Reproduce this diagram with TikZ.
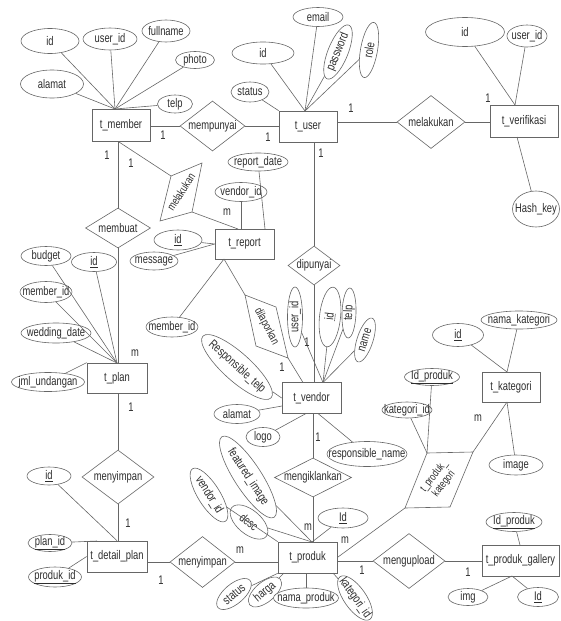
\documentclass[tikz,border=0pt]{standalone}
\usepackage{fontspec}
\setmainfont{Liberation Sans}[FakeStretch=0.75]
\usetikzlibrary{shapes.geometric}
\begin{document}
\begin{tikzpicture}[x=1pt,y=-1pt,
  every node/.style={font=\fontsize{12.5}{13}\selectfont, text=black!82},
  ln/.style={draw=black!60, line width=0.6pt},
  ent/.style={draw=black!60, line width=0.7pt, rectangle, inner sep=0pt, fill=white},
  rel/.style={draw=black!60, line width=0.6pt, diamond, inner sep=-8pt, aspect=1, fill=white},
  att/.style={draw=black!60, line width=0.6pt, ellipse, inner xsep=-30pt, inner ysep=-10pt, fill=white},
  card/.style={inner sep=0pt},
  ptext/.style={inner sep=0pt, align=center}
]
\useasboundingbox (0,0) rectangle (560,621);

% ---------- entities ----------
\node[ent, minimum width=58, minimum height=32] (tmember) at (121,125) {t\_member};
\node[ent, minimum width=58, minimum height=31] (tuser) at (308,126.5) {t\_user};
\node[ent, minimum width=68, minimum height=32] (tverif) at (524,121) {t\_verifikasi};
\node[ent, minimum width=59, minimum height=30] (treport) at (244.5,244) {t\_report};
\node[ent, minimum width=60, minimum height=30] (tplan) at (117,378) {t\_plan};
\node[ent, minimum width=59, minimum height=31] (tvendor) at (311.5,398) {t\_vendor};
\node[ent, minimum width=58, minimum height=30] (tkat) at (511,387) {t\_kategori};
\node[ent, minimum width=60, minimum height=31] (tdp) at (117,556.5) {t\_detail\_plan};
\node[ent, minimum width=59, minimum height=31] (tprod) at (307.5,557.5) {t\_produk};
\node[ent, minimum width=77, minimum height=31] (tgal) at (520.5,560.5) {t\_produk\_gallery};

% ---------- relationships ----------
\node[rel, minimum width=65, minimum height=50] (mempunyai) at (212.5,126) {mempunyai};
\node[rel, minimum width=68, minimum height=53] (melakukan) at (431,122) {melakukan};
\node[rel, minimum width=65, minimum height=40] (membuat) at (118,228) {membuat};
\node[rel, minimum width=52, minimum height=39] (dipunyai) at (314,265.5) {dipunyai};
\node[rel, minimum width=72, minimum height=54] (menyA) at (118,477) {menyimpan};
\node[rel, minimum width=65, minimum height=51] (menyB) at (202.5,562) {menyimpan};
\node[rel, minimum width=77, minimum height=39] (mengik) at (313,477.5) {mengiklankan};
\node[rel, minimum width=72, minimum height=55] (mengup) at (409,561) {mengupload};

% ---------- slanted relationship shapes ----------
\coordinate (mkTR) at (202,163);
\coordinate (mkTL) at (171,176);
\coordinate (mkBL) at (160,221);
\coordinate (mkBR) at (192,212);
\draw[ln, fill=white] (mkTR) -- (mkTL) -- (mkBL) -- (mkBR) -- cycle;
\node[ptext, rotate=57, font=\fontsize{11.5}{12}\selectfont] (mktext) at (181,192) {melakukan};

\coordinate (dlTL) at (245,295);
\coordinate (dlTR) at (276,307);
\coordinate (dlBR) at (288,358);
\coordinate (dlBL) at (256,346);
\draw[ln, fill=white] (dlTL) -- (dlTR) -- (dlBR) -- (dlBL) -- cycle;
\node[ptext, rotate=-62, font=\fontsize{11.5}{12}\selectfont] (dltext) at (266.5,326.5) {dilaporkan};

\coordinate (pkTL) at (427,453);
\coordinate (pkTR) at (473,452);
\coordinate (pkBR) at (450,507);
\coordinate (pkBL) at (405,508);
\draw[ln, fill=white] (pkTL) -- (pkTR) -- (pkBR) -- (pkBL) -- cycle;
\node[ptext, rotate=52, font=\fontsize{11}{12.5}\selectfont] (pktext) at (439,480) {t\_produk\_\\kategori};

% ---------- attributes ----------
% t_member
\node[att, minimum width=58, minimum height=25] (m_id) at (50,41) {id};
\node[att, minimum width=54, minimum height=22] (m_uid) at (110,39) {user\_id};
\node[att, minimum width=48, minimum height=22] (m_full) at (166,31) {fullname};
\node[att, minimum width=39, minimum height=17] (m_photo) at (195,60) {photo};
\node[att, minimum width=63, minimum height=28] (m_alamat) at (52,84) {alamat};
\node[att, minimum width=35, minimum height=18] (m_telp) at (175,104) {telp};
% t_user
\node[att, minimum width=62, minimum height=22] (u_id) at (263,53) {id};
\node[att, minimum width=38, minimum height=20] (u_status) at (250,92) {status};
\node[att, minimum width=50, minimum height=19] (u_email) at (318,17) {email};
\node[att, rotate=68, minimum width=58, minimum height=20] (u_pass) at (338,52) {password};
\node[att, rotate=80, minimum width=56, minimum height=17] (u_role) at (369,50) {role};
% t_verifikasi
\node[att, minimum width=79, minimum height=29] (v_id) at (465,32) {id};
\node[att, minimum width=40, minimum height=22] (v_uid) at (527,36) {user\_id};
\node[att, minimum width=47, minimum height=36] (v_hash) at (536,209) {Hash\_key};
% t_report
\node[att, minimum width=60, minimum height=18] (r_date) at (258,162) {report\_date};
\node[att, minimum width=52, minimum height=19] (r_vid) at (241,192) {vendor\_id};
\node[att, minimum width=48, minimum height=20] (r_id) at (178,240) {\underline{id}};
\node[att, minimum width=48, minimum height=18] (r_msg) at (154,261) {message};
\node[att, minimum width=52, minimum height=20] (r_mid) at (172,327) {member\_id};
% t_plan
\node[att, minimum width=50, minimum height=19] (p_budget) at (46,256) {budget};
\node[att, minimum width=45, minimum height=19] (p_id) at (94,262) {\underline{id}};
\node[att, minimum width=52, minimum height=21] (p_mid) at (46,292) {member\_id};
\node[att, minimum width=70, minimum height=20] (p_wd) at (56,333) {wedding\_date};
\node[att, minimum width=73, minimum height=19] (p_jml) at (48,382) {jml\_undangan};
% t_detail_plan
\node[att, minimum width=44, minimum height=18] (d_id) at (49,476) {\underline{id}};
\node[att, minimum width=44, minimum height=17] (d_plan) at (50,543) {\underline{plan\_id}};
\node[att, minimum width=53, minimum height=20] (d_prod) at (55,577) {\underline{produk\_id}};
% t_vendor
\node[att, rotate=90, minimum width=60, minimum height=15] (vd_uid) at (295,317) {user\_id};
\node[att, rotate=84, minimum width=60, minimum height=21] (vd_id) at (330,317) {\underline{id}};
\node[att, rotate=88, minimum width=50, minimum height=14] (vd_telp) at (349,313) {telp};
\node[att, rotate=72, minimum width=46, minimum height=16] (vd_name) at (365,340) {name};
\node[att, rotate=-42, minimum width=92, minimum height=28] (vd_rtelp) at (237,367) {Responsible\_telp};
\node[att, minimum width=46, minimum height=19] (vd_alamat) at (237,414) {alamat};
\node[att, minimum width=34, minimum height=19] (vd_logo) at (263,437) {logo};
\node[att, minimum width=80, minimum height=25] (vd_rname) at (367,454) {responsible\_name};
% t_produk
\node[att, rotate=-57, minimum width=96, minimum height=27] (pr_feat) at (248,477) {featured\_image};
\node[att, rotate=-58, minimum width=62, minimum height=22] (pr_vid) at (209,495) {vendor\_id};
\node[att, rotate=-40, minimum width=45, minimum height=24] (pr_desc) at (249,522) {desc};
\node[att, minimum width=50, minimum height=20] (pr_id) at (343,518) {\underline{Id}};
\node[att, rotate=40, minimum width=42, minimum height=20] (pr_status) at (234,594) {status};
\node[att, rotate=40, minimum width=40, minimum height=20] (pr_harga) at (265,592) {harga};
\node[att, minimum width=65, minimum height=20] (pr_nama) at (306,598) {nama\_produk};
\node[att, rotate=-55, minimum width=52, minimum height=22] (pr_kat) at (355,598) {kategori\_id};
% t_kategori
\node[att, minimum width=51, minimum height=23] (k_id) at (458,335) {\underline{id}};
\node[att, minimum width=76, minimum height=18] (k_nama) at (519,320) {nama\_kategori};
\node[att, minimum width=54, minimum height=20] (k_img) at (516,465) {image};
% t_produk_kategori
\node[att, minimum width=55, minimum height=17] (pk_idp) at (432,377) {\underline{Id\_produk}};
\node[att, minimum width=50, minimum height=16] (pk_katid) at (407,410) {kategori\_id};
% t_produk_gallery
\node[att, minimum width=56, minimum height=19] (g_idp) at (514,522) {\underline{Id\_produk}};
\node[att, minimum width=40, minimum height=17] (g_img) at (468,597) {img};
\node[att, minimum width=41, minimum height=19] (g_id) at (538,597) {\underline{Id}};

% ---------- junction points ----------
\coordinate (cm) at (115,109);
\coordinate (cu) at (305,111);
\coordinate (cvf) at (515,105);
\coordinate (cvb) at (517,137);
\coordinate (cp) at (117,363);
\coordinate (cvd) at (323,382.5);
\coordinate (cvd2) at (303,382.5);
\coordinate (crt) at (238,229);
\coordinate (crt2) at (265,229);
\coordinate (crb) at (224,259);
\coordinate (cva) at (282,406);
\coordinate (cvl) at (306,413.5);
\coordinate (cvr) at (318,413.5);
\coordinate (cpr) at (312,542);
\coordinate (cph) at (284,573);
\coordinate (cpk) at (333,573);
\coordinate (ck1) at (507,372);
\coordinate (ck2) at (507,402);
\coordinate (cg1) at (520,545);
\coordinate (cg2) at (512,576);
\coordinate (cdp) at (97,541);

% ---------- connectors ----------
\draw[ln] (m_id) -- (cm);
\draw[ln] (m_uid) -- (cm);
\draw[ln] (m_full) -- (cm);
\draw[ln] (m_photo) -- (cm);
\draw[ln] (m_alamat) -- (cm);
\draw[ln] (m_telp) -- (cm);

\draw[ln] (tmember.east |- mempunyai.west) -- (mempunyai.west);
\draw[ln] (mempunyai.east) -- (tuser.west |- mempunyai.east);
\draw[ln] (tuser.east |- melakukan.west) -- (melakukan.west);
\draw[ln] (melakukan.east) -- (tverif.west |- melakukan.east);

\draw[ln] (u_id) -- (cu);
\draw[ln] (u_email) -- (cu);
\draw[ln] (u_pass) -- (cu);
\draw[ln] (u_role) -- (cu);
\draw[ln] (u_status) -- (tuser.north west);

\draw[ln] (v_id) -- (cvf);
\draw[ln] (v_uid) -- (cvf);
\draw[ln] (cvb) -- (v_hash);

\draw[ln] (tuser.south -| dipunyai.north) -- (dipunyai.north);
\draw[ln] (dipunyai.south) -- (tvendor.north -| dipunyai.south);

\draw[ln] (tmember.south -| membuat.north) -- (membuat.north);
\draw[ln] (membuat.south) -- (tplan.north -| membuat.south);
\draw[ln] (tmember.south -| membuat.north) -- (mkTL);
\draw[ln] (mkBR) -- (crt);

\draw[ln] (r_date) -- (crt2);
\draw[ln] (r_vid) -- (r_vid |- treport.north);
\draw[ln] (r_id) -- (treport.west);
\draw[ln] (r_msg) -- (treport.west);
\draw[ln] (r_mid) -- (crb);
\draw[ln] (crb) -- (dlTL);
\draw[ln] (dlBR) -- (cvd2);

\draw[ln] (vd_uid) -- (cvd);
\draw[ln] (vd_id) -- (cvd);
\draw[ln] (vd_telp) -- (cvd);
\draw[ln] (vd_name) -- (cvd);
\draw[ln] (vd_rtelp) -- (tvendor.west);
\draw[ln] (vd_alamat) -- (cva);
\draw[ln] (vd_logo) -- (cvl);
\draw[ln] (vd_rname) -- (cvr);
\draw[ln] (tvendor.south -| mengik.north) -- (mengik.north);
\draw[ln] (mengik.south) -- (tprod.north -| mengik.south);

\draw[ln] (pr_feat) -- (cpr);
\draw[ln] (pr_desc) -- (cpr);
\draw[ln] (pr_vid) -- (tprod.north west);
\draw[ln] (pr_id) -- (cpr);
\draw[ln] (pr_status) -- (tprod.south west);
\draw[ln] (pr_harga) -- (cph);
\draw[ln] (pr_nama) -- (pr_nama |- tprod.south);
\draw[ln] (pr_kat) -- (cpk);

\draw[ln] (tprod.east) -- (pkBL);
\draw[ln] (pkTR) -- (ck2);
\draw[ln] (pk_idp) -- (pkTL);
\draw[ln] (pk_katid) -- (pkTL);

\draw[ln] (tprod.east |- mengup.west) -- (mengup.west);
\draw[ln] (mengup.east) -- (tgal.west |- mengup.east);

\draw[ln] (g_idp) -- (cg1);
\draw[ln] (g_img) -- (cg2);
\draw[ln] (g_id) -- (cg2);

\draw[ln] (k_id) -- (ck1);
\draw[ln] (k_nama) -- (ck1);
\draw[ln] (k_img) -- (ck2);

\draw[ln] (p_budget) -- (cp);
\draw[ln] (p_id) -- (cp);
\draw[ln] (p_mid) -- (cp);
\draw[ln] (p_wd) -- (cp);
\draw[ln] (p_jml) -- (tplan.north west);
\draw[ln] (tplan.south -| menyA.north) -- (menyA.north);
\draw[ln] (menyA.south) -- (tdp.north -| menyA.south);

\draw[ln] (d_id) -- (tdp.north);
\draw[ln] (d_plan) -- (cdp);
\draw[ln] (d_prod) -- (tdp.west);
\draw[ln] (tdp.east |- menyB.west) -- (menyB.west);
\draw[ln] (menyB.east) -- (tprod.west |- menyB.east);

% ---------- cardinalities ----------
\node[card] (c1) at (163,135) {1};
\node[card] (c2) at (268,137) {1};
\node[card] (c3) at (351,108) {1};
\node[card] (c4) at (488,98) {1};
\node[card] (c5) at (321,153) {1};
\node[card] (c6) at (107,155) {1};
\node[card] (c7) at (131,163) {1};
\node[card] (c8) at (227,212) {m};
\node[card] (c9) at (135,353) {m};
\node[card] (c10) at (307,342) {1};
\node[card] (c11) at (282,367) {1};
\node[card] (c12) at (131,407) {1};
\node[card] (c13) at (128,523) {1};
\node[card] (c14) at (161,580) {1};
\node[card] (c15) at (240,550) {m};
\node[card] (c16) at (318,437) {1};
\node[card] (c17) at (308,527) {m};
\node[card] (c18) at (345,540) {m};
\node[card] (c19) at (362,570) {1};
\node[card] (c20) at (468,572) {1};
\node[card] (c21) at (478,418) {m};
\end{tikzpicture}
\end{document}
